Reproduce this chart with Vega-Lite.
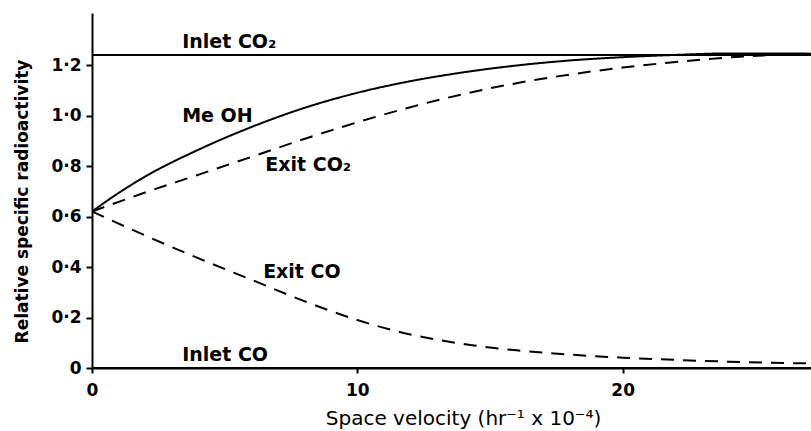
{
  "$schema": "https://vega.github.io/schema/vega-lite/v6.json",
  "width": 719,
  "height": 355,
  "autosize": "none",
  "padding": {"left": 92, "top": 13, "right": 0, "bottom": 63},
  "background": "white",
  "config": {"view": {"stroke": null}, "font": "DejaVu Sans"},
  "datasets": {
    "curves": [
      {"series": "Inlet CO2", "v": 0, "r": 1.24},
      {"series": "Inlet CO2", "v": 27.1, "r": 1.24},
      {"series": "Inlet CO", "v": 0, "r": 0.0},
      {"series": "Inlet CO", "v": 27.1, "r": 0.0},
      {"series": "MeOH", "v": 0, "r": 0.62},
      {"series": "MeOH", "v": 1, "r": 0.693},
      {"series": "MeOH", "v": 2, "r": 0.758},
      {"series": "MeOH", "v": 4, "r": 0.864},
      {"series": "MeOH", "v": 6, "r": 0.954},
      {"series": "MeOH", "v": 8, "r": 1.03},
      {"series": "MeOH", "v": 10, "r": 1.09},
      {"series": "MeOH", "v": 12, "r": 1.136},
      {"series": "MeOH", "v": 14, "r": 1.171},
      {"series": "MeOH", "v": 16, "r": 1.198},
      {"series": "MeOH", "v": 18, "r": 1.218},
      {"series": "MeOH", "v": 20, "r": 1.231},
      {"series": "MeOH", "v": 22, "r": 1.24},
      {"series": "MeOH", "v": 24, "r": 1.246},
      {"series": "MeOH", "v": 27.1, "r": 1.245},
      {"series": "Exit CO2", "v": 0, "r": 0.62},
      {"series": "Exit CO2", "v": 2, "r": 0.695},
      {"series": "Exit CO2", "v": 4, "r": 0.765},
      {"series": "Exit CO2", "v": 6, "r": 0.836},
      {"series": "Exit CO2", "v": 8, "r": 0.907},
      {"series": "Exit CO2", "v": 10, "r": 0.973},
      {"series": "Exit CO2", "v": 12, "r": 1.033},
      {"series": "Exit CO2", "v": 14, "r": 1.085},
      {"series": "Exit CO2", "v": 16, "r": 1.128},
      {"series": "Exit CO2", "v": 18, "r": 1.162},
      {"series": "Exit CO2", "v": 20, "r": 1.19},
      {"series": "Exit CO2", "v": 22, "r": 1.212},
      {"series": "Exit CO2", "v": 24, "r": 1.23},
      {"series": "Exit CO2", "v": 27.1, "r": 1.245},
      {"series": "Exit CO", "v": 0, "r": 0.62},
      {"series": "Exit CO", "v": 2, "r": 0.525},
      {"series": "Exit CO", "v": 4, "r": 0.435},
      {"series": "Exit CO", "v": 6, "r": 0.35},
      {"series": "Exit CO", "v": 8, "r": 0.265},
      {"series": "Exit CO", "v": 10, "r": 0.19},
      {"series": "Exit CO", "v": 12, "r": 0.133},
      {"series": "Exit CO", "v": 14, "r": 0.095},
      {"series": "Exit CO", "v": 16, "r": 0.07},
      {"series": "Exit CO", "v": 18, "r": 0.053},
      {"series": "Exit CO", "v": 20, "r": 0.041},
      {"series": "Exit CO", "v": 22, "r": 0.032},
      {"series": "Exit CO", "v": 24, "r": 0.025},
      {"series": "Exit CO", "v": 27.1, "r": 0.018}
    ],
    "labels": [
      {"label": "Inlet CO₂", "v": 3.4, "r": 1.29},
      {"label": "Me OH", "v": 3.4, "r": 1.0},
      {"label": "Exit CO₂", "v": 6.53, "r": 0.804},
      {"label": "Exit CO", "v": 6.45, "r": 0.38},
      {"label": "Inlet CO", "v": 3.4, "r": 0.05}
    ]
  },
  "layer": [
    {
      "data": {"name": "curves"},
      "mark": {"type": "line", "color": "black", "strokeWidth": 2, "interpolate": "monotone", "clip": true},
      "encoding": {
        "x": {
          "field": "v", "type": "quantitative",
          "scale": {"domain": [0, 27.1], "nice": false, "zero": false},
          "axis": {
            "values": [0, 10, 20],
            "grid": false,
            "domainColor": "black", "domainWidth": 2,
            "tickColor": "black", "tickWidth": 2, "tickSize": 5,
            "labelFontSize": 17, "labelFontWeight": "bold", "labelColor": "black", "labelPadding": 9,
            "labelFlush": false,
            "title": "Space velocity (hr⁻¹ x 10⁻⁴)",
            "titleFontSize": 20, "titleFontWeight": "normal", "titleColor": "black",
            "titleX": 371, "titleY": 50, "titleBaseline": "middle", "titleAlign": "center"
          }
        },
        "y": {
          "field": "r", "type": "quantitative",
          "scale": {"domain": [0, 1.406], "nice": false, "zero": false},
          "axis": {
            "values": [0, 0.2, 0.4, 0.6, 0.8, 1.0, 1.2],
            "labelExpr": "datum.value == 0 ? '0' : replace(format(datum.value, '.1f'), '.', '·')",
            "grid": false,
            "domainColor": "black", "domainWidth": 2,
            "tickColor": "black", "tickWidth": 2, "tickSize": 6,
            "labelFontSize": 17, "labelFontWeight": "bold", "labelColor": "black", "labelPadding": 5,
            "labelFlush": false,
            "title": "Relative specific radioactivity",
            "titleFontSize": 17, "titleFontWeight": "bold", "titleColor": "black",
            "titleX": -70, "titleY": 188, "titleAngle": -90, "titleBaseline": "middle", "titleAlign": "center"
          }
        },
        "detail": {"field": "series"},
        "strokeDash": {
          "field": "series", "type": "nominal",
          "scale": {"domain": ["Inlet CO2", "MeOH", "Exit CO2", "Exit CO", "Inlet CO"], "range": [[1, 0], [1, 0], [13, 9], [13, 9], [1, 0]]},
          "legend": null
        }
      }
    },
    {
      "data": {"name": "labels"},
      "mark": {"type": "text", "align": "left", "baseline": "middle", "fontSize": 19, "fontWeight": "bold", "color": "black"},
      "encoding": {
        "x": {"field": "v", "type": "quantitative"},
        "y": {"field": "r", "type": "quantitative"},
        "text": {"field": "label"}
      }
    }
  ]
}
